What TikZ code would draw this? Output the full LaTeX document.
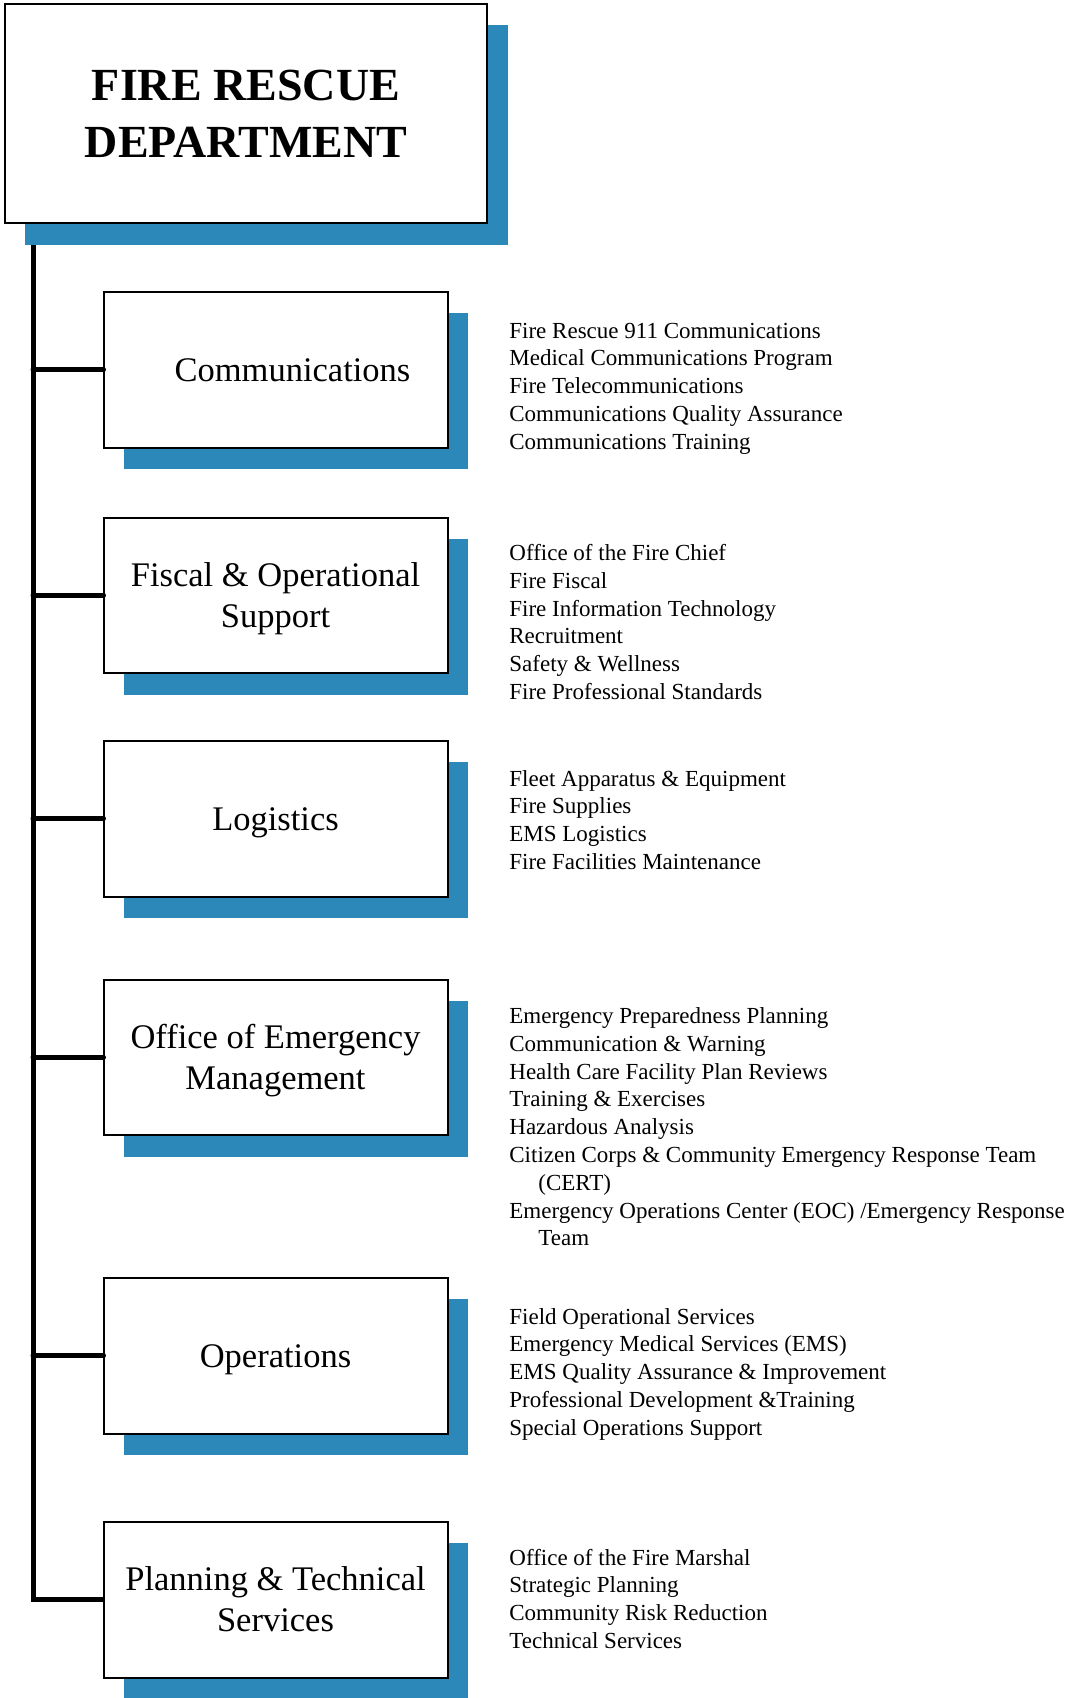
\documentclass[tikz,border=0pt]{standalone}
\usepackage{fontspec}
\setmainfont{Liberation Serif}
\usetikzlibrary{backgrounds}
\definecolor{shadowblue}{HTML}{2C88B8}
% rows of text whose baseline is the first row
\newcommand\rowsof[2][l]{\begin{tabular}[t]{@{}#1@{}}#2\end{tabular}}
\begin{document}
\begin{tikzpicture}[x=0.5pt,y=-0.5pt,
  unitbox/.style={draw=black,line width=1pt,fill=white,inner sep=0pt,outer sep=0pt,
    anchor=north west,minimum width=172pt,minimum height=77.75pt},
  headbox/.style={unitbox,minimum width=241pt,minimum height=109.5pt},
  boxlabel/.style={anchor=base,inner sep=0pt,font=\fontsize{17.25pt}{20.5pt}\selectfont},
  headlabel/.style={anchor=base,inner sep=0pt,font=\fontsize{23pt}{28.5pt}\selectfont\bfseries},
  duties/.style={anchor=base west,inner sep=0pt,font=\fontsize{11.5pt}{13.9pt}\selectfont},
  trunk/.style={line width=2.5pt,line join=miter},
  branch/.style={line width=2.5pt,line cap=round},
  shade/.style={fill=shadowblue}]
\useasboundingbox (0,0) rectangle (1076,1698);

% boxes
\node[headbox] (fr)   at (5,4) {};
\node[unitbox] (comm) at (103.5,292) {};
\node[unitbox] (fis)  at (103.5,517.5) {};
\node[unitbox] (log)  at (103.5,741) {};
\node[unitbox] (oem)  at (103.5,979.5) {};
\node[unitbox] (ops)  at (103.5,1278) {};
\node[unitbox] (plan) at (103.5,1522) {};

% offset blue shadows behind the boxes
\begin{pgfonlayer}{background}
  \foreach \b in {fr,comm,fis,log,oem,ops,plan}
    \fill[shade] ([shift={(20,21)}]\b.north west) rectangle ([shift={(20.5,21.5)}]\b.south east);
\end{pgfonlayer}

% box titles
\node[headlabel] (fr-t)   at ([shift={(0,-13.5)}]fr.center) {\rowsof[c]{FIRE RESCUE\\DEPARTMENT}};
\node[boxlabel]  (comm-t) at ([shift={(17,11.5)}]comm.center) {\rowsof[c]{Communications}};
\node[boxlabel]  (fis-t)  at ([shift={(0,-9)}]fis.center) {\rowsof[c]{Fiscal \& Operational\\Support}};
\node[boxlabel]  (log-t)  at ([shift={(0,11.5)}]log.center) {\rowsof[c]{Logistics}};
\node[boxlabel]  (oem-t)  at ([shift={(0,-9)}]oem.center) {\rowsof[c]{Office of Emergency\\Management}};
\node[boxlabel]  (ops-t)  at ([shift={(0,11.5)}]ops.center) {\rowsof[c]{Operations}};
\node[boxlabel]  (plan-t) at ([shift={(0,-9)}]plan.center) {\rowsof[c]{Planning \& Technical\\Services}};

% duties of each unit
\node[duties] (comm-d) at (509,338) {\rowsof{Fire Rescue 911 Communications\\
  Medical Communications Program\\
  Fire Telecommunications\\
  Communications Quality Assurance\\
  Communications Training}};
\node[duties] (fis-d) at (509,560.5) {\rowsof{Office of the Fire Chief\\
  Fire Fiscal\\
  Fire Information Technology\\
  Recruitment\\
  Safety \& Wellness\\
  Fire Professional Standards}};
\node[duties] (log-d) at (509,786) {\rowsof{Fleet Apparatus \& Equipment\\
  Fire Supplies\\
  EMS Logistics\\
  Fire Facilities Maintenance}};
\node[duties] (oem-d) at (509,1023.5) {\rowsof{Emergency Preparedness Planning\\
  Communication \& Warning\\
  Health Care Facility Plan Reviews\\
  Training \& Exercises\\
  Hazardous Analysis\\
  Citizen Corps \& Community Emergency Response Team\\
  \hspace*{14.5pt}(CERT)\\
  Emergency Operations Center (EOC) /Emergency Response\\
  \hspace*{14.5pt}Team}};
\node[duties] (ops-d) at (509,1324) {\rowsof{Field Operational Services\\
  Emergency Medical Services (EMS)\\
  EMS Quality Assurance \& Improvement\\
  Professional Development \&Training\\
  Special Operations Support}};
\node[duties] (plan-d) at (509,1565) {\rowsof{Office of the Fire Marshal\\
  Strategic Planning\\
  Community Risk Reduction\\
  Technical Services}};

% connector tree
\coordinate (trunktop) at (33,245);
\draw[trunk] (trunktop) |- (plan.west);
\foreach \b in {comm,fis,log,oem,ops}
  \draw[branch] (\b.west) -- (\b.west -| trunktop);
\end{tikzpicture}
\end{document}
